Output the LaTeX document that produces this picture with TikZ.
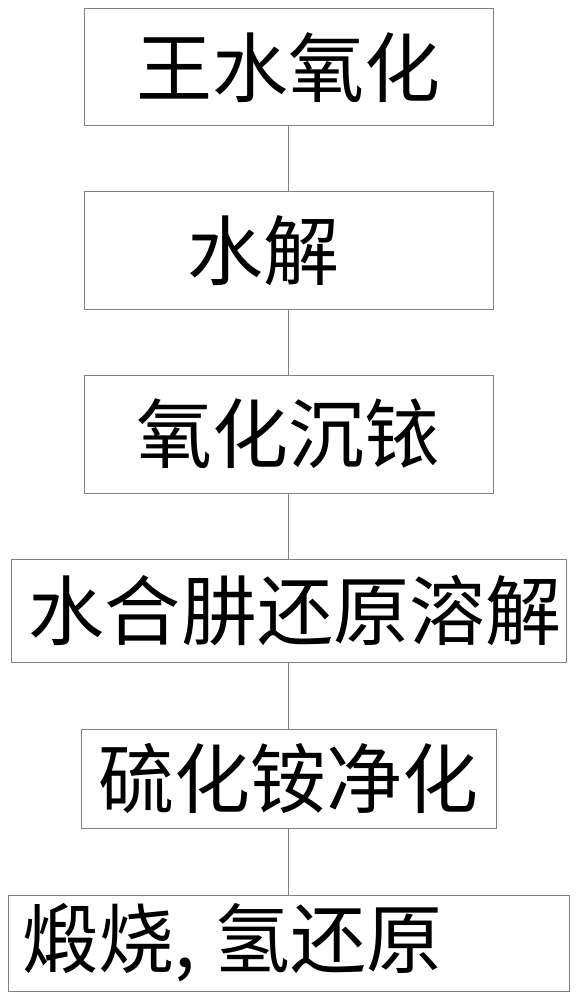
\documentclass[tikz,border=0pt]{standalone}
\usepackage{fontspec}
\newfontfamily\cjk{Noto Sans CJK SC}
\begin{document}
\begin{tikzpicture}[x=1pt,y=-1pt,
  box/.style={draw=black!50, line width=1pt, inner sep=0pt, anchor=center,
    font=\cjk\fontsize{76}{80}\selectfont},
  link/.style={draw=black!50, line width=1pt}]
\useasboundingbox (0,0) rectangle (575,1000);
\node[box, minimum width=409pt, minimum height=117pt] (b1) at (288.5,67.5) {王水氧化};
\node[box, minimum width=409pt, minimum height=117pt] (b2) at (288.5,250.5) {水解\hspace*{50pt}\null};
\node[box, minimum width=409pt, minimum height=118pt] (b3) at (288.5,434) {氧化沉铱};
\node[box, minimum width=555pt, minimum height=103pt] (b4) at (288.5,610.5) {\hspace*{13pt}水合肼还原溶解};
\node[box, minimum width=415pt, minimum height=99pt] (b5) at (288.5,778.5) {硫化铵净化};
\node[box, minimum width=561pt, minimum height=96pt] (b6) at (288.5,943) {煅烧,\hspace*{18pt}氢还原\hspace*{112pt}\null};
\draw[link] (b1.south) -- (b2.north);
\draw[link] (b2.south) -- (b3.north);
\draw[link] (b3.south) -- (b4.north);
\draw[link] (b4.south) -- (b5.north);
\draw[link] (b5.south) -- (b6.north);
\end{tikzpicture}
\end{document}
